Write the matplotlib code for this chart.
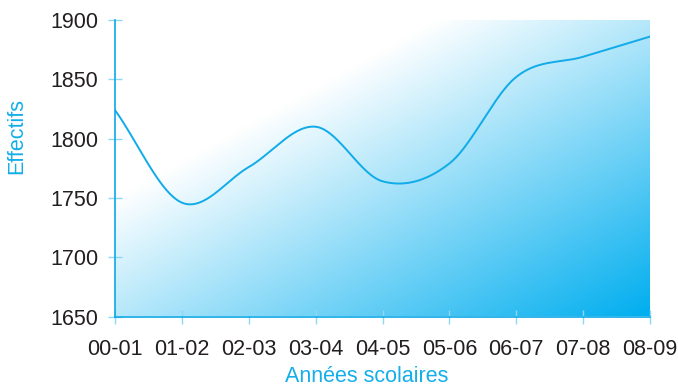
import numpy as np
import matplotlib
matplotlib.use("Agg")
import matplotlib.pyplot as plt
from matplotlib.colors import LinearSegmentedColormap

plt.rcParams['font.family'] = ['Liberation Sans', 'DejaVu Sans']

years = ["00-01", "01-02", "02-03", "03-04", "04-05", "05-06", "06-07", "07-08", "08-09"]
effectifs = [1824, 1746, 1776, 1810, 1764, 1779, 1852, 1869, 1886]
yticks = [1650, 1700, 1750, 1800, 1850, 1900]

BLUE = "#14aee9"
LINE = "#10abe8"
SPINE = "#0aa9e6"
TICK = "#8dd8f5"
TEXT = "#231f20"


def catmull_rom(x, y, n=40):
    x = np.asarray(x, float)
    y = np.asarray(y, float)
    px = np.concatenate([[2 * x[0] - x[1]], x, [2 * x[-1] - x[-2]]])
    py = np.concatenate([[2 * y[0] - y[1]], y, [2 * y[-1] - y[-2]]])
    xs, ys = [], []
    for i in range(1, len(px) - 2):
        t = np.linspace(0, 1, n, endpoint=False)
        for arr, out in ((px, xs), (py, ys)):
            p0, p1, p2, p3 = arr[i - 1], arr[i], arr[i + 1], arr[i + 2]
            out.append(0.5 * ((2 * p1) + (-p0 + p2) * t
                              + (2 * p0 - 5 * p1 + 4 * p2 - p3) * t ** 2
                              + (-p0 + 3 * p1 - 3 * p2 + p3) * t ** 3))
    xs.append([x[-1]])
    ys.append([y[-1]])
    return np.concatenate(xs), np.concatenate(ys)


fig = plt.figure(figsize=(6.78, 3.87), dpi=100)
ax = fig.add_axes([115 / 678, 1 - 316.5 / 387, 535 / 678, 296.5 / 387])

xpos = np.arange(len(years))
ax.set_xlim(0, len(years) - 1)
ax.set_ylim(yticks[0], yticks[-1])

# diagonal gradient background
u = np.linspace(0, 1, 400)[None, :]
v = np.linspace(0, 1, 300)[:, None]
t = (u + v) / 2.0
t = np.clip((t - 0.3) / 0.7, 0, 1)
cmap = LinearSegmentedColormap.from_list("g", ["#ffffff", "#00aeef"])
ax.imshow(t, cmap=cmap, vmin=0, vmax=1, aspect='auto',
          extent=[0, len(years) - 1, yticks[0], yticks[-1]], origin='upper',
          interpolation='bilinear', zorder=0)

sx, sy = catmull_rom(xpos, effectifs)
ax.plot(sx, sy, color=LINE, lw=1.4, zorder=3, solid_capstyle='round')

ax.set_xticks(xpos)
ax.set_xticklabels(years)
ax.set_yticks(yticks)
ax.tick_params(axis='both', direction='inout', length=10, width=1, color=TICK,
               labelcolor=TEXT, labelsize=15.5)
ax.tick_params(axis='y', pad=7)
ax.tick_params(axis='x', pad=11.5)

for s in ('top', 'right'):
    ax.spines[s].set_visible(False)
for s in ('left', 'bottom'):
    ax.spines[s].set_color(SPINE)
    ax.spines[s].set_linewidth(1.2)
    ax.spines[s].set_zorder(4)

ax.set_xlabel("Années scolaires", color=BLUE, fontsize=15.5)
ax.xaxis.label.set_va('center')
ax.xaxis.set_label_coords((367 - 115) / 535, (316 - 376) / 296)
ax.set_ylabel("Effectifs", color=BLUE, fontsize=15.5)
ax.yaxis.label.set_va('center')
ax.yaxis.set_label_coords((17 - 115) / 535, (316 - 136) / 296)

fig.savefig("out.png", dpi=100)
